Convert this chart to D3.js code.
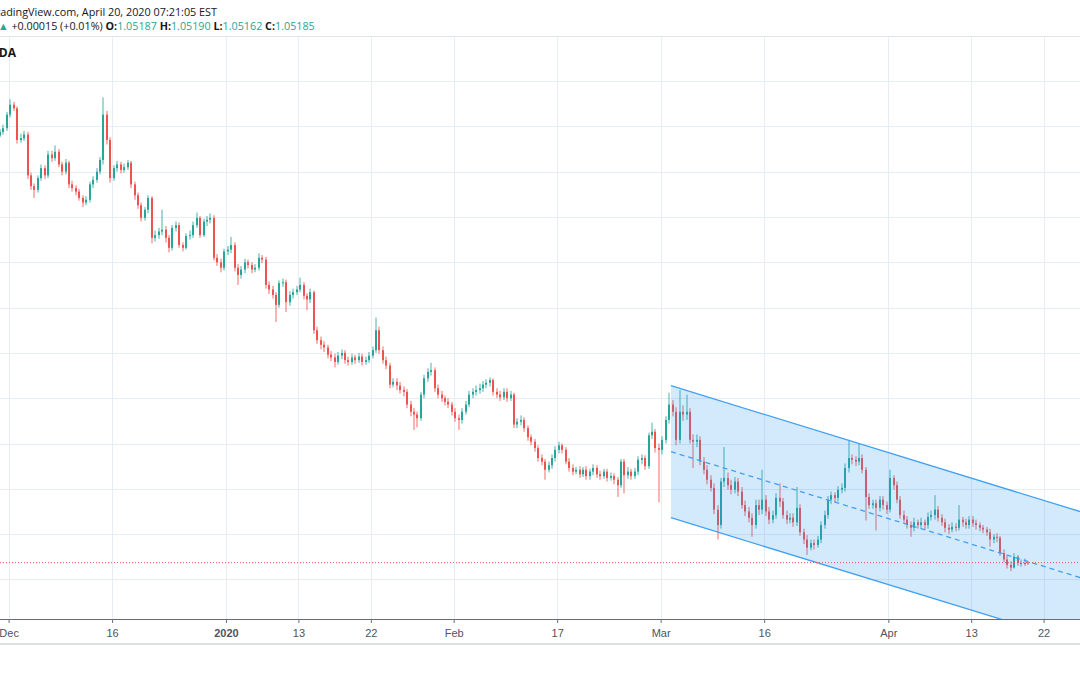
<!DOCTYPE html>
<html><head><meta charset="utf-8">
<script src="https://cdn.jsdelivr.net/npm/d3@7"></script>
<style>html,body{margin:0;padding:0;background:#fff;overflow:hidden}svg{display:block}</style>
</head><body>
<svg id="c" width="1080" height="675"></svg>
<script>
// ---------- DATA (EUR/CHF, 8-hour candles, prices in pips above BASE) ----------
const BASE = 1.0500, PIP = 0.0001;
// trading-day number of the first candle (0 = Mon Dec 2 2019), three candles per trading day
const firstBarDay = -1;
const barsPerDay = 3;

const opens = [
490,494,498,513,524,520,485,487,491,446, 434,430,443,454,446,469,465,472,458,450,
460,436,432,428,421,416,419,436,441,450, 463,513,485,443,454,458,452,455,460,436,
424,413,399,408,421,377,380,384,386,377, 366,388,391,369,366,379,380,391,399,380,
395,397,399,355,350,344,362,364,369,344, 336,342,350,347,342,344,355,353,325,320,
314,303,327,328,306,314,317,320,325,313, 309,317,275,264,259,256,248,245,240,247,
250,242,240,245,242,246,240,242,247,253, 275,253,242,236,215,218,214,209,207,193,
185,182,178,204,222,229,231,211,204,200, 196,193,185,178,176,185,193,204,207,209,
211,215,217,220,207,204,201,207,200,204, 171,174,176,167,157,152,145,134,130,121,
126,134,143,148,143,130,123,119,121,116, 121,114,119,123,116,114,119,112,114,110,
104,130,115,119,114,119,132,134,125,159, 163,145,143,154,176,193,185,154,185,182,
185,154,152,154,130,121,110,101,77,60, 108,112,104,99,108,97,82,75,68,60,
82,77,88,75,66,71,90,86,71,66, 68,63,79,52,44,35,40,38,44,60,
71,88,93,90,99,101,123,134,132,130, 134,121,91,82,84,79,88,82,77,112,
104,88,71,66,60,57,63,60,63,60, 69,71,77,68,63,57,55,58,57,66,
63,60,66,62,60,57,55,52,44,47, 46,29,22,16,13,25,18,18,18.7];
const highs = [
497,502,516,530,527,522,492,495,494,449, 437,446,458,457,473,473,479,475,461,464,
462,440,435,431,424,423,439,445,454,466, 532,517,488,457,462,461,459,463,462,439,
427,416,411,424,423,385,388,408,390,380, 391,395,394,372,382,385,395,405,401,398,
401,404,402,359,354,365,368,378,372,348, 346,354,353,350,348,360,358,356,329,324,
317,330,332,331,318,321,324,333,328,316, 321,319,279,268,263,259,252,249,251,254,
253,246,249,248,250,249,246,251,257,289, 279,257,246,239,222,222,218,213,210,197,
189,185,207,226,233,239,234,215,208,203, 200,196,189,182,189,197,208,211,214,216,
219,221,223,222,211,208,211,211,208,206, 178,181,179,170,160,155,148,138,133,130,
138,147,152,150,146,134,127,124,125,124, 125,122,127,126,120,122,122,118,117,113,
133,133,124,122,123,136,138,137,162,173, 166,150,158,180,206,198,190,209,192,204,
189,160,160,158,135,126,115,106,82,112, 146,118,110,113,112,102,87,80,73,88,
88,121,93,80,76,95,106,90,76,73, 73,102,83,56,49,44,44,48,64,76,
92,97,96,103,106,128,154,138,136,150, 138,124,95,88,88,92,92,86,121,115,
108,92,76,70,64,68,66,68,66,74, 76,93,81,72,67,61,63,62,82,69,
67,70,70,66,63,60,58,56,50,51, 48,33,26,20,29,27,22,23,19.0];
const lows = [
488,491,495,510,517,481,482,484,442,430, 421,427,440,442,443,461,462,455,446,447,
432,428,424,418,411,413,416,432,438,447, 458,480,438,440,450,448,449,452,432,419,
409,395,396,404,371,373,376,380,372,361, 363,384,366,362,364,375,377,388,377,378,
390,393,352,346,339,341,358,360,340,325, 332,338,343,338,339,341,349,321,315,310,
284,300,323,295,302,310,314,317,309,297, 305,271,260,254,251,244,241,234,237,243,
238,236,237,238,239,236,237,239,244,250, 249,238,232,211,212,209,205,202,189,180,
165,168,175,200,218,225,207,200,196,192, 189,181,174,165,172,182,190,200,203,205,
207,211,213,203,200,197,198,196,197,167, 167,170,163,153,148,141,130,126,110,118,
122,130,139,139,127,119,115,116,112,113, 110,110,115,112,110,111,108,109,105,91,
101,95,111,110,111,115,127,121,122,155, 140,85,138,150,172,180,148,150,175,176,
150,123,146,126,116,105,97,72,44,56, 102,99,94,95,92,78,70,63,47,56,
71,72,70,61,62,67,80,67,61,62, 58,59,48,39,27,32,33,35,40,56,
67,83,85,86,95,97,118,127,125,126, 117,65,78,78,54,75,77,72,74,99,
84,67,62,56,47,53,56,57,55,56, 65,66,64,59,52,50,52,53,54,58,
56,56,58,55,53,51,48,36,40,41, 26,19,12,9,12,15,14,15,16.2];
const closes = [
494,498,513,524,520,485,487,491,446,434, 430,443,454,446,469,465,472,458,450,460,
436,432,428,421,416,419,436,441,450,463, 513,485,443,454,458,452,455,460,436,424,
413,399,408,421,377,380,384,386,377,366, 388,391,369,366,379,380,391,399,380,395,
397,399,355,350,344,362,364,369,344,336, 342,350,347,342,344,355,353,325,320,314,
303,327,328,306,314,317,320,325,313,309, 317,275,264,259,256,248,245,240,247,250,
242,240,245,242,246,240,242,247,253,275, 253,242,236,215,218,214,209,207,193,185,
182,178,204,222,229,231,211,204,200,196, 193,185,178,176,185,193,204,207,209,211,
215,217,220,207,204,201,207,200,204,171, 174,176,167,157,152,145,134,130,121,126,
134,143,148,143,130,123,119,121,116,121, 114,119,123,116,114,119,112,114,110,104,
130,115,119,114,119,132,134,125,159,163, 145,143,154,176,193,185,154,185,182,185,
154,152,154,130,121,110,101,77,60,108, 112,104,99,108,97,82,75,68,60,82,
77,88,75,66,71,90,86,71,66,68, 63,79,52,44,35,40,38,44,60,71,
88,93,90,99,101,123,134,132,130,134, 121,91,82,84,79,88,82,77,112,104,
88,71,66,60,57,63,60,63,60,69, 71,77,68,63,57,55,58,57,66,63,
60,66,62,60,57,55,52,44,47,46, 29,22,16,13,25,18,18,17,18.5];

// time axis: labels and the trading-day number where each one sits
const tickLabels = ['Dec','16','2020','13','22','Feb','17','Mar','16','Apr','13','22'];
const tickDays   = [0, 10, 21, 28, 35, 43, 53, 63, 73, 85, 93, 100];
const tickBold   = [false,false,true,false,false,false,false,false,false,false,false,false];
// horizontal price grid
const gridPrices = [1.045,1.050,1.055,1.060,1.065,1.070,1.075,1.080,1.085,1.090,1.095,1.100,1.105,1.110];
// regression channel drawn on the chart (trading day, price)
const channelDays  = [64, 98.6];
const channelUpper = [1.07138, 1.05922];
const channelLower = [1.05681, 1.04465];

const headerLine1 = 'TradingView.com, April 20, 2020 07:21:05 EST';
const headerSource = 'OANDA';

// ---------- DRAW ----------
const W = 1080, H = 675;
const paneTop = 37, paneBottom = 619;
const UP = '#26a69a', DOWN = '#ef5350';
const svg = d3.select('#c');

const x = d3.scaleLinear().domain([0, 100]).range([8.6, 1043.6]);
const y = d3.scaleLinear().domain([1.05, 1.10]).range([579.4, 126.4]);
const price = p => BASE + p * PIP;

const bars = closes.map((c, i) => ({
  day: firstBarDay + (i + 0.5) / barsPerDay,
  o: price(opens[i]), h: price(highs[i]), l: price(lows[i]), c: price(c)
}));

svg.append('rect').attr('width', W).attr('height', H).attr('fill', '#fff');

svg.append('defs').append('clipPath').attr('id', 'pane')
  .append('rect').attr('x', 0).attr('y', paneTop).attr('width', W).attr('height', paneBottom - paneTop);

const pane = svg.append('g').attr('clip-path', 'url(#pane)');

// grid
pane.append('g').selectAll('line').data(gridPrices).join('line')
  .attr('x1', 0).attr('x2', W)
  .attr('y1', d => Math.round(y(d)) + 0.5).attr('y2', d => Math.round(y(d)) + 0.5)
  .attr('stroke', '#e6edf3').attr('stroke-width', 1);
pane.append('g').selectAll('line').data(tickDays).join('line')
  .attr('y1', paneTop).attr('y2', paneBottom)
  .attr('x1', d => Math.round(x(d)) + 0.5).attr('x2', d => Math.round(x(d)) + 0.5)
  .attr('stroke', '#e6edf3').attr('stroke-width', 1);

// candles
const cg = pane.append('g');
cg.selectAll('rect.w').data(bars).join('rect').attr('class', 'w')
  .attr('x', d => Math.round(x(d.day)) - 0.5).attr('width', 1)
  .attr('y', d => y(d.h)).attr('height', d => Math.max(1, y(d.l) - y(d.h)))
  .attr('fill', d => d.c >= d.o ? UP : DOWN).attr('opacity', 0.85);
cg.selectAll('rect.b').data(bars).join('rect').attr('class', 'b')
  .attr('x', d => Math.round(x(d.day)) - 1).attr('width', 2)
  .attr('y', d => y(Math.max(d.o, d.c)))
  .attr('height', d => Math.max(1, Math.abs(y(d.o) - y(d.c))))
  .attr('fill', d => d.c >= d.o ? UP : DOWN);

// channel (extended to the right edge)
const dEnd = x.invert(W) + 2;
const slopeU = (channelUpper[1] - channelUpper[0]) / (channelDays[1] - channelDays[0]);
const slopeL = (channelLower[1] - channelLower[0]) / (channelDays[1] - channelDays[0]);
const up = d => channelUpper[0] + slopeU * (d - channelDays[0]);
const lo = d => channelLower[0] + slopeL * (d - channelDays[0]);
const d0 = channelDays[0];
pane.append('path')
  .attr('d', d3.line()([[x(d0), y(up(d0))], [x(dEnd), y(up(dEnd))], [x(dEnd), y(lo(dEnd))], [x(d0), y(lo(d0))]]) + 'Z')
  .attr('fill', 'rgba(33,150,243,0.2)');
const chLine = (f, dash) => pane.append('line')
  .attr('x1', x(d0)).attr('y1', y(f(d0))).attr('x2', x(dEnd)).attr('y2', y(f(dEnd)))
  .attr('stroke', '#42a0f2').attr('stroke-width', 1.3).attr('stroke-dasharray', dash);
chLine(up, null);
chLine(lo, null);
chLine(d => (up(d) + lo(d)) / 2, '5,4');

// last price line
const last = bars[bars.length - 1];
const prev = bars[bars.length - 2];
pane.append('line').attr('x1', 0).attr('x2', W)
  .attr('y1', y(last.c)).attr('y2', y(last.c))
  .attr('stroke', last.c >= last.o ? UP : DOWN).attr('stroke-width', 1).attr('stroke-dasharray', '1,2');

// pane top border
svg.append('line').attr('x1', 0).attr('x2', W).attr('y1', paneTop - 0.5).attr('y2', paneTop - 0.5)
  .attr('stroke', '#e0e3eb');

// time axis
const axisG = svg.append('g').attr('transform', `translate(0,${paneBottom})`);
const axis = d3.axisBottom(x).tickValues(tickDays).tickSize(4).tickPadding(6)
  .tickFormat((d, i) => tickLabels[i]);
axisG.call(axis);
axisG.select('.domain').attr('stroke', '#6a6d78').attr('d', `M0,0.5H${W}`);
axisG.selectAll('.tick line').attr('stroke', '#6a6d78');
axisG.selectAll('.tick text')
  .attr('font-family', 'Liberation Sans, Arial, sans-serif').attr('font-size', 11)
  .attr('fill', '#50535e')
  .attr('font-weight', (d, i) => tickBold[i] ? 'bold' : 'normal');
svg.append('line').attr('x1', 0).attr('x2', W).attr('y1', 644).attr('y2', 644)
  .attr('stroke', '#d1d4dc').attr('stroke-width', 1.5);

// header (the snapshot is cropped on the left, so the lines start off-canvas)
const hf = '"Open Sans", Lato, sans-serif';
const t1 = svg.append('text').attr('x', 217).attr('y', 16).attr('text-anchor', 'end')
  .attr('font-family', hf).attr('font-size', 13).attr('fill', '#131722').text(headerLine1);
{ // fit so the part after "Tr" spans the visible width of the reference
  const n = headerLine1.length;
  const sub = t1.node().getSubStringLength(2, n - 2);
  t1.attr('font-size', 13 * 217 / sub);
}
const fmt = d3.format('.5f');
const chg = last.c - prev.c;
const t2 = svg.append('text').attr('x', -2).attr('y', 30)
  .attr('font-family', hf).attr('font-size', 13).attr('fill', '#131722');
t2.append('tspan').attr('fill', UP).text(chg >= 0 ? '▲' : '▼');
t2.append('tspan').text(` ${chg >= 0 ? '+' : ''}${fmt(chg)} (${chg >= 0 ? '+' : ''}${(chg / prev.c * 100).toFixed(2)}%) `);
[['O', last.o], ['H', last.h], ['L', last.l], ['C', last.c]].forEach(([k, v], i) => {
  t2.append('tspan').attr('font-weight', 'bold').text((i ? ' ' : '') + k + ':');
  t2.append('tspan').attr('fill', UP).text(fmt(v));
});
{
  const len = t2.node().getComputedTextLength();
  t2.attr('font-size', 13 * 317 / len);
}
svg.append('text').attr('x', 16).attr('y', 57).attr('text-anchor', 'end')
  .attr('font-family', hf).attr('font-size', 12).attr('font-weight', 'bold')
  .attr('fill', '#131722').text(headerSource);
</script>
</body></html>
